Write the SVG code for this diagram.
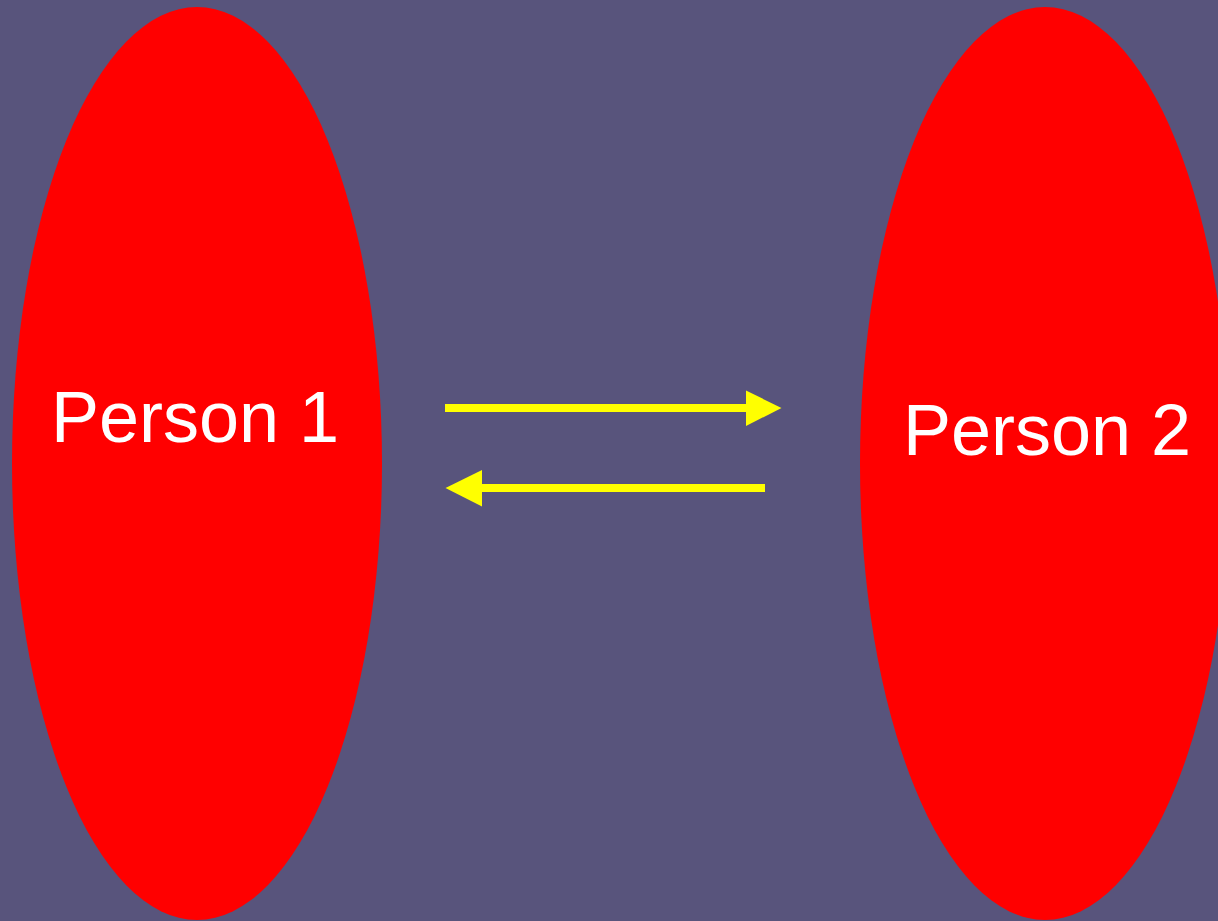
<svg xmlns="http://www.w3.org/2000/svg" width="1218" height="921" viewBox="0 0 1218 921">
<style>
.node{fill:#ff0000}
.lbl{font-family:"Liberation Sans",Arial,sans-serif;font-size:72px;fill:#ffffff;text-anchor:middle}
.arrow{stroke:#ffff00;stroke-width:8;fill:none}
.head{fill:#ffff00}
</style>
<rect x="0" y="0" width="1218" height="921" fill="#58547c"/>
<g id="person1">
<ellipse class="node" cx="197" cy="463.5" rx="185" ry="456.5"/>
<text class="lbl" x="195" y="442">Person 1</text>
</g>
<g id="person2">
<ellipse class="node" cx="1045" cy="463.5" rx="185" ry="456.5"/>
<text class="lbl" x="1047" y="455">Person 2</text>
</g>
<g id="connectors">
<line class="arrow" x1="445" y1="408" x2="748" y2="408"/>
<polygon class="head" points="746,390.5 781.5,408 746,426"/>
<line class="arrow" x1="765" y1="488" x2="480" y2="488"/>
<polygon class="head" points="482,470 445.5,488 482,506.5"/>
</g>
</svg>
